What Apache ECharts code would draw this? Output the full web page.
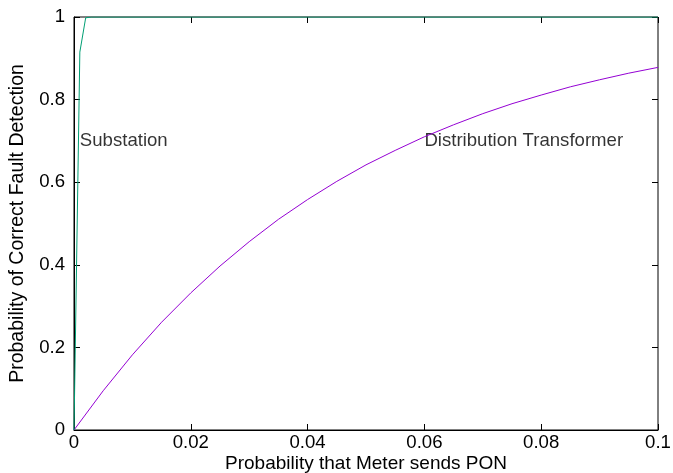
<!DOCTYPE html>
<html>
<head>
<meta charset="utf-8">
<script src="https://cdn.jsdelivr.net/npm/echarts@6/dist/echarts.min.js"></script>
<style>
    html, body { margin: 0; padding: 0; background: #ffffff; }
    #chart { width: 673px; height: 473px; }
</style>
</head>
<body>
<div id="chart"></div>
<script type="text/javascript">
    // values
    var ponProb = [0, 0.005, 0.01, 0.015, 0.02, 0.025, 0.03, 0.035, 0.04, 0.045, 0.05,
                   0.055, 0.06, 0.065, 0.07, 0.075, 0.08, 0.085, 0.09, 0.095, 0.1];
    var transformerDetect = [0, 0.095, 0.182, 0.261, 0.332, 0.397, 0.456, 0.510, 0.558, 0.602, 0.642,
                             0.677, 0.710, 0.739, 0.766, 0.790, 0.811, 0.831, 0.848, 0.864, 0.878];
    var substationProb = [0, 0.001, 0.002, 0.003, 0.1];
    var substationDetect = [0, 0.915, 0.998, 1, 1];
    var labelNames = ['Substation', 'Distribution Transformer'];
    var labelPos = [[0.001, 0.7], [0.06, 0.7]];

    var font = 'Liberation Sans, Arial, sans-serif';
    var fs = 18.6;

    function zip(xs, ys) {
        return xs.map(function (x, i) { return [x, ys[i]]; });
    }

    var chart = echarts.init(document.getElementById('chart'), null, {renderer: 'canvas'});

    var tick = { show: true, inside: true, length: 6, lineStyle: { color: '#000', width: 1 } };

    chart.setOption({
        animation: false,
        backgroundColor: '#ffffff',
        grid: {
            left: 74, right: 15, top: 17, bottom: 43,
            outerBoundsMode: 'none', containLabel: false,
            show: true, borderColor: '#000', borderWidth: 1
        },
        xAxis: [{
            type: 'value', min: 0, max: 0.1, interval: 0.02,
            name: 'Probability that Meter sends PON', nameLocation: 'middle', nameGap: 24,
            nameMoveOverlap: false,
            nameTextStyle: { color: '#000', fontSize: 19, fontFamily: font },
            axisLine: { show: true, onZero: false, lineStyle: { color: '#000' } },
            axisTick: tick,
            splitLine: { show: false },
            axisLabel: { color: '#000', fontSize: fs, fontFamily: font, margin: 3 }
        }, {
            type: 'value', position: 'top', min: 0, max: 0.1, interval: 0.02,
            axisLine: { show: false, onZero: false }, axisTick: tick,
            axisLabel: { show: false }, splitLine: { show: false }
        }],
        yAxis: [{
            type: 'value', min: 0, max: 1, interval: 0.2,
            name: 'Probability of Correct Fault Detection', nameLocation: 'middle', nameGap: 46,
            nameMoveOverlap: false,
            nameTextStyle: { color: '#000', fontSize: 19.5, fontFamily: font },
            axisLine: { show: true, onZero: false, lineStyle: { color: '#000' } },
            axisTick: tick,
            splitLine: { show: false },
            axisLabel: { color: '#000', fontSize: fs, fontFamily: font, margin: 9 }
        }, {
            type: 'value', position: 'right', min: 0, max: 1, interval: 0.2,
            axisLine: { show: false, onZero: false }, axisTick: tick,
            axisLabel: { show: false }, splitLine: { show: false }
        }],
        series: [
            {
                name: 'Distribution Transformer', type: 'line',
                data: zip(ponProb, transformerDetect),
                showSymbol: false, itemStyle: { color: '#9400d3' }, lineStyle: { color: '#9400d3', width: 1 }
            },
            {
                name: 'Substation', type: 'line',
                data: zip(substationProb, substationDetect),
                showSymbol: false, itemStyle: { color: '#009e73' }, lineStyle: { color: '#009e73', width: 1 }
            },
            {
                type: 'scatter', symbolSize: 0, silent: true,
                itemStyle: { color: 'transparent' },
                data: labelPos.map(function (p, i) { return { name: labelNames[i], value: p }; }),
                label: {
                    show: true, position: 'right', distance: 0,
                    formatter: '{b}', color: '#000', fontSize: fs, fontFamily: font
                }
            }
        ]
    });
</script>
</body>
</html>
